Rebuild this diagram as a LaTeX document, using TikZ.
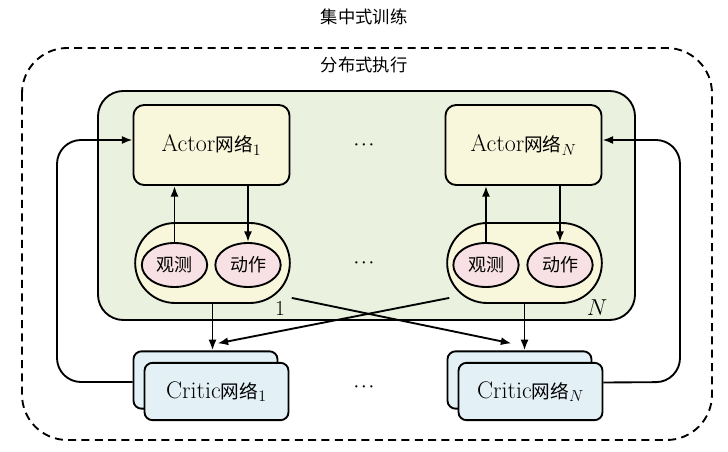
\documentclass[tikz,border=0pt]{standalone}
\usepackage{fontspec}
\newfontfamily\cjk{Noto Sans CJK SC}
\usetikzlibrary{arrows.meta,calc,shapes.geometric}
\definecolor{execgreen}{HTML}{EAF1DE}
\definecolor{actyellow}{HTML}{F8F7DB}
\definecolor{obspink}{HTML}{F8E1E4}
\definecolor{critblue}{HTML}{E3F1F7}

\begin{document}
\begin{tikzpicture}[x=0.75pt,y=-0.75pt,>={Latex[length=8pt,width=6pt]},line width=1.4pt,
    actor/.style={draw,rounded corners=8pt,fill=actyellow,minimum width=117pt,minimum height=60pt,font=\fontsize{18}{20}\selectfont},
    grp/.style={draw,rounded corners=30pt,fill=actyellow,minimum width=116pt,minimum height=60pt},
    obs/.style={draw,ellipse,fill=obspink,minimum width=49pt,minimum height=33pt,inner sep=0pt,font=\cjk\fontsize{13.5}{16}\selectfont},
    critic/.style={draw,rounded corners=6pt,fill=critblue,minimum width=108pt,minimum height=43pt,font=\fontsize{18}{20}\selectfont},
    dots/.style={font=\fontsize{11}{13}\selectfont\boldmath}]
    \useasboundingbox (0,0) rectangle (728,452);
    % centralized training / distributed execution
    \node (train) at (364,17) {\cjk\fontsize{13}{15}\selectfont 集中式训练};
    \draw [dash pattern=on 6pt off 4pt,rounded corners=34pt] (22,48) rectangle (712,440);
    \node (exec) at (364,65) {\cjk\fontsize{13}{15}\selectfont 分布式执行};
    \draw [fill=execgreen,rounded corners=19pt] (98,91) rectangle (635,320);
    % agents
    \node [actor] (actor1) at (211.5,145) {Actor{\cjk\fontsize{14}{16}\selectfont 网络}$_1$};
    \node [actor] (actorN) at (523.5,145) {Actor{\cjk\fontsize{14}{16}\selectfont 网络}$_N$};
    \node [grp] (g1) at (212.5,263) {};
    \node [grp] (gN) at (524.5,263) {};
    \node [obs] (obs1) at (174.5,265) {观测};
    \node [obs] (act1) at (248,265) {动作};
    \node [obs] (obsN) at (486,265) {观测};
    \node [obs] (actN) at (560,265) {动作};
    \node [font=\fontsize{16}{18}\selectfont] (lab1) at (280,308) {1};
    \node [font=\fontsize{16}{18}\selectfont] (labN) at (597,308) {$N$};
    \node [dots] (dotsA) at (364,145) {$\cdots$};
    \node [dots] (dotsO) at (364,263) {$\cdots$};
    % critics
    \node [critic] (cb1) at (205.5,380) {};
    \node [critic] (cf1) at (216.5,391.5) {Critic{\cjk\fontsize{14}{16}\selectfont 网络}$_1$};
    \node [critic] (cbN) at (519.5,380) {};
    \node [critic] (cfN) at (530.5,391.5) {Critic{\cjk\fontsize{14}{16}\selectfont 网络}$_N$};
    \node [dots] (dotsC) at (364,387) {$\cdots$};
    \path [->]
    (obs1.north) edge (obs1.north |- actor1.south)
    (act1.north |- actor1.south) edge (act1.north)
    (obsN.north) edge (obsN.north |- actorN.south)
    (actN.north |- actorN.south) edge (actN.north)
    (g1.south) edge (g1.south |- cb1.north)
    (gN.south) edge (gN.south |- cbN.north)
    ($(g1.south east)+(1,-6)$) edge ($(cbN.north)+(-8,-7)$)
    ($(gN.south west)+(3,-6)$) edge ($(cb1.north)+(12,-7)$)
    ;
    \draw [->,rounded corners=18pt] ($(cb1.west)+(0,2)$) -- (57,382) -- (57,140) -- ($(actor1.west)+(0,-5)$);
    \draw [->,rounded corners=18pt] ($(cfN.east)+(0,-9)$) -- (680,382) -- (680,140) -- ($(actorN.east)+(0,-5)$);
\end{tikzpicture}
\end{document}
